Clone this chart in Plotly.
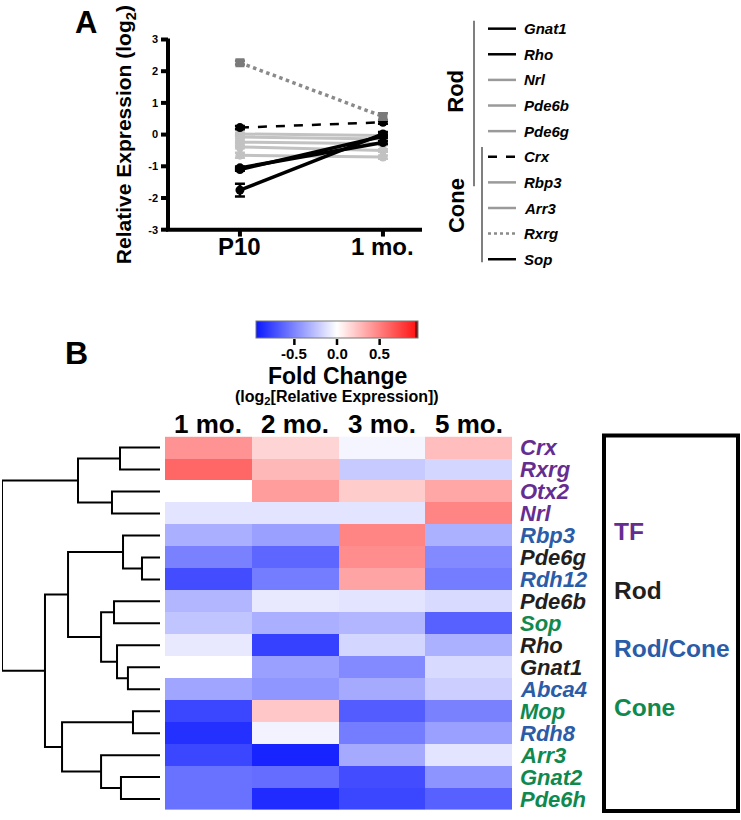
import plotly.graph_objects as go

W, H = 741, 820
FONT = "Liberation Sans, Arial, sans-serif"

def xp(px):
    return px / W

def yp(py):
    return 1 - py / H

# ---------------- Panel A data ----------------
timepoints_A = ["P10", "1 mo."]
genes_A = ["Gnat1", "Rho", "Nrl", "Pde6b", "Pde6g", "Crx", "Rbp3", "Arr3", "Rxrg", "Sop"]
p10_vals = [-1.05, -1.10, 0.02, -0.08, -0.24, 0.22, -0.39, -0.65, 2.27, -1.75]
mo1_vals = [-0.25, -0.05, -0.03, -0.14, -0.29, 0.39, -0.50, -0.71, 0.57, 0.02]
p10_err = [0.04, 0.04, 0.04, 0.04, 0.04, 0.05, 0.04, 0.08, 0.06, 0.20]
mo1_err = [0.05, 0.05, 0.04, 0.04, 0.04, 0.05, 0.04, 0.05, 0.10, 0.06]
styles_A = ["black", "black", "gray", "gray", "gray", "dash", "gray", "gray", "dot", "black"]
groups_A = ["Rod", "Cone"]
yticks_A = [3, 2, 1, 0, -1, -2, -3]

# ---------------- Panel B data ----------------
timepoints_B = ["1 mo.", "2 mo.", "3 mo.", "5 mo."]
genes_B = ["Crx", "Rxrg", "Otx2", "Nrl", "Rbp3", "Pde6g", "Rdh12", "Pde6b", "Sop",
           "Rho", "Gnat1", "Abca4", "Mop", "Rdh8", "Arr3", "Gnat2", "Pde6h"]
gene_class_B = ["TF", "TF", "TF", "TF", "Rod/Cone", "Rod", "Rod/Cone", "Rod", "Cone",
                "Rod", "Rod", "Rod/Cone", "Cone", "Rod/Cone", "Cone", "Cone", "Cone"]
fold_1mo = [0.43, 0.60, 0.00, -0.11, -0.33, -0.52, -0.73, -0.30, -0.24, -0.09, 0.00, -0.37, -0.76, -0.85, -0.76, -0.58, -0.58]
fold_2mo = [0.17, 0.28, 0.39, -0.11, -0.39, -0.63, -0.54, -0.09, -0.33, -0.78, -0.39, -0.43, 0.22, -0.05, -0.90, -0.60, -0.87]
fold_3mo = [-0.04, -0.22, 0.20, -0.11, 0.48, 0.45, 0.36, -0.11, -0.30, -0.17, -0.48, -0.35, -0.67, -0.54, -0.35, -0.73, -0.76]
fold_5mo = [0.26, -0.17, 0.35, 0.48, -0.32, -0.48, -0.54, -0.15, -0.65, -0.32, -0.15, -0.20, -0.52, -0.39, -0.11, -0.44, -0.65]
cbar_ticks = [-0.5, 0.0, 0.5]
classes = ["TF", "Rod", "Rod/Cone", "Cone"]
class_colors = {"TF": "#662d91", "Rod": "#231f20", "Rod/Cone": "#2b5ca8", "Cone": "#10894f"}

# dendrogram linkage: (child a, child b, height); leaves 0..16, merges numbered from 17
linkage = [
    (0, 1, 0.253), (2, 3, 0.304), (17, 18, 0.519),
    (5, 6, 0.114), (4, 20, 0.234), (7, 8, 0.291),
    (10, 11, 0.203), (9, 23, 0.272), (22, 24, 0.373),
    (21, 25, 0.582), (12, 13, 0.171), (15, 16, 0.247),
    (14, 28, 0.373), (27, 29, 0.620), (26, 30, 0.728),
    (19, 31, 1.000),
]

ZMIN, ZMAX = -0.95, 0.95
YMIN_A, YMAX_A = -3, 3
XMIN_A, XMAX_A = -0.503, 1.273
# colorbar geometry (pixels)
CB_X0, CB_X1, CB_Y0, CB_Y1 = 256, 418, 320, 337
# panel A geometry (pixels)
AX_X0, AX_X1, AX_Y0, AX_Y1 = 168, 422, 34, 227

def a_ypix(v):
    return AX_Y0 + (YMAX_A - v) / (YMAX_A - YMIN_A) * (AX_Y1 - AX_Y0)

def a_xpix(v):
    return AX_X0 + (v - XMIN_A) / (XMAX_A - XMIN_A) * (AX_X1 - AX_X0)

fig = go.Figure()

# ---------------- Panel A traces ----------------
LIGHT = "#c2c2c2"
order = [i for i, s in enumerate(styles_A) if s == "gray"] + \
        [i for i, s in enumerate(styles_A) if s in ("black", "dash")] + \
        [i for i, s in enumerate(styles_A) if s == "dot"]
for i in order:
    s = styles_A[i]
    if s == "gray":
        col, dash, w, sym, mcol = LIGHT, "solid", 3, "circle", LIGHT
    elif s == "dot":
        col, dash, w, sym, mcol = "#8a8a8a", "dot", 3.5, "square", "#7a7a7a"
    elif s == "dash":
        col, dash, w, sym, mcol = "black", "dash", 2.5, "circle", "black"
    else:
        col, dash, w, sym, mcol = "black", "solid", 3.5, "circle", "black"
    fig.add_trace(go.Scatter(
        x=[0, 1], y=[p10_vals[i], mo1_vals[i]],
        mode="lines+markers", name=genes_A[i], showlegend=False,
        line=dict(color=col, dash=dash, width=w),
        marker=dict(symbol=sym, size=9, color=mcol),
        error_y=dict(type="data", array=[p10_err[i], mo1_err[i]], color=mcol,
                     thickness=2.5, width=5),
        xaxis="x", yaxis="y",
    ))

# ---------------- Panel B heatmap ----------------
z = [[fold_1mo[r], fold_2mo[r], fold_3mo[r], fold_5mo[r]] for r in range(len(genes_B))]
fig.add_trace(go.Heatmap(
    z=z, x=list(range(len(timepoints_B))), y=list(range(len(genes_B))),
    zmin=ZMIN, zmax=ZMAX,
    colorscale=[[0, "rgb(10,24,255)"], [0.5, "rgb(255,255,255)"],
                [0.98, "rgb(255,24,24)"], [0.985, "rgb(120,20,20)"], [1.0, "rgb(120,20,20)"]],
    xgap=0, ygap=0,
    colorbar=dict(
        orientation="h", x=xp((CB_X0 + CB_X1) / 2), xanchor="center",
        y=yp(CB_Y0), yanchor="top",
        len=(CB_X1 - CB_X0) / W, lenmode="fraction", thickness=CB_Y1 - CB_Y0,
        xpad=0, ypad=0, showticklabels=False, ticks="",
        outlinewidth=1, outlinecolor="#777",
    ),
    xaxis="x2", yaxis="y2",
))

# ---------------- Dendrogram ----------------
node_y = {i: float(i) for i in range(len(genes_B))}
node_h = {i: 0.0 for i in range(len(genes_B))}
dx, dy = [], []
for k, (a, b, h) in enumerate(linkage):
    nid = len(genes_B) + k
    dx += [node_h[a], h, h, node_h[b], None]
    dy += [node_y[a], node_y[a], node_y[b], node_y[b], None]
    node_y[nid] = (node_y[a] + node_y[b]) / 2
    node_h[nid] = h
fig.add_trace(go.Scatter(x=dx, y=dy, mode="lines", line=dict(color="black", width=2),
                         showlegend=False, hoverinfo="skip", xaxis="x3", yaxis="y2"))

# ---------------- Axis frame of panel A + colorbar ticks (overlay in pixel space) ----------------
fx, fy = [], []
fx += [AX_X0, AX_X0, AX_X1, None]
fy += [AX_Y0 - 1, AX_Y1, AX_Y1, None]
for v in yticks_A:
    py = a_ypix(v)
    fx += [AX_X0 - 7, AX_X0, None]
    fy += [py, py, None]
for i in range(len(timepoints_A)):
    px = a_xpix(i)
    fx += [px, px, None]
    fy += [AX_Y1, AX_Y1 + 7, None]
fig.add_trace(go.Scatter(x=fx, y=fy, mode="lines", line=dict(color="black", width=4),
                         showlegend=False, hoverinfo="skip", xaxis="x4", yaxis="y4"))
cx, cy_ = [], []
for v in cbar_ticks:
    px = CB_X0 + (v - ZMIN) / (ZMAX - ZMIN) * (CB_X1 - CB_X0)
    cx += [px, px, None]
    cy_ += [CB_Y1 + 1, CB_Y1 + 7, None]
fig.add_trace(go.Scatter(x=cx, y=cy_, mode="lines", line=dict(color="black", width=2.5),
                         showlegend=False, hoverinfo="skip", xaxis="x4", yaxis="y4"))

annotations = []
shapes = []

for i, t in enumerate(timepoints_A):
    annotations.append(dict(x=i, xref="x", y=yp(244), yref="paper", yanchor="middle",
                            showarrow=False, text="<b>%s</b>" % t,
                            font=dict(family=FONT, size=24, color="black")))

# Heatmap column headers
for i, t in enumerate(timepoints_B):
    annotations.append(dict(x=i, xref="x2", y=yp(424), yref="paper", yanchor="middle",
                            showarrow=False, text="<b>%s</b>" % t,
                            font=dict(family=FONT, size=26, color="black")))

# Colorbar tick labels
for v in cbar_ticks:
    px = CB_X0 + (v - ZMIN) / (ZMAX - ZMIN) * (CB_X1 - CB_X0)
    annotations.append(dict(x=xp(px), y=yp(353), xref="paper", yref="paper",
                            yanchor="middle", showarrow=False, text="<b>%.1f</b>" % v,
                            font=dict(family=FONT, size=15, color="black")))

# Row labels
for r, g in enumerate(genes_B):
    annotations.append(dict(
        x=xp(518), xref="paper", y=r, yref="y2", xanchor="left", yanchor="middle",
        text="<b><i>%s</i></b>" % g, showarrow=False,
        font=dict(family=FONT, size=22, color=class_colors[gene_class_B[r]])))

# Class box
shapes.append(dict(type="rect", xref="paper", yref="paper",
                   x0=xp(604), x1=xp(738), y0=yp(817), y1=yp(436),
                   line=dict(color="black", width=4)))
class_y = [533, 593, 652, 712]
for c, cyy in zip(classes, class_y):
    annotations.append(dict(x=xp(612), xref="paper", y=yp(cyy), yref="paper",
                            xanchor="left", yanchor="middle", showarrow=False,
                            text="<b>%s</b>" % c,
                            font=dict(family=FONT, size=24.5, color=class_colors[c])))

# Colorbar titles
annotations.append(dict(x=xp(337), y=yp(375), xref="paper", yref="paper", showarrow=False,
                        yanchor="middle",
                        text="<b>Fold Change</b>", font=dict(family=FONT, size=23, color="black")))
annotations.append(dict(x=xp(337), y=yp(397), xref="paper", yref="paper", showarrow=False,
                        yanchor="middle",
                        text="<b>(log<sub>2</sub>[Relative Expression])</b>",
                        font=dict(family=FONT, size=16, color="black")))

# Panel labels
annotations.append(dict(x=xp(73), y=yp(17), xref="paper", yref="paper", showarrow=False,
                        yanchor="middle",
                        text="<b>A</b>", font=dict(family=FONT, size=31, color="black")))
annotations.append(dict(x=xp(63), y=yp(352), xref="paper", yref="paper", showarrow=False,
                        yanchor="middle",
                        text="<b>B</b>", font=dict(family=FONT, size=32, color="black")))

# Panel A custom legend
leg_y0, leg_dy = 23, 26
for i, g in enumerate(genes_A):
    cyy = leg_y0 + i * leg_dy
    s = styles_A[i]
    if s == "gray":
        lc, ld = "#9a9a9a", "solid"
    elif s == "dot":
        lc, ld = "#8a8a8a", "dot"
    elif s == "dash":
        lc, ld = "black", "dash"
    else:
        lc, ld = "black", "solid"
    shapes.append(dict(type="line", xref="paper", yref="paper",
                       x0=xp(488), x1=xp(516), y0=yp(cyy), y1=yp(cyy),
                       line=dict(color=lc, width=2.5, dash=ld)))
    annotations.append(dict(x=xp(522), y=yp(cyy), xref="paper", yref="paper",
                            xanchor="left", yanchor="middle", showarrow=False,
                            text="<b><i>%s</i></b>" % g,
                            font=dict(family=FONT, size=15, color="black")))
# group brackets
shapes.append(dict(type="line", xref="paper", yref="paper", x0=xp(474), x1=xp(474),
                   y0=yp(15), y1=yp(183), line=dict(color="#555", width=1.5)))
shapes.append(dict(type="line", xref="paper", yref="paper", x0=xp(482), x1=xp(482),
                   y0=yp(143), y1=yp(260), line=dict(color="#555", width=1.5)))
for gname, gy in zip(groups_A, [87, 203]):
    annotations.append(dict(x=xp(456), y=yp(gy), xref="paper", yref="paper",
                            xanchor="center", yanchor="middle",
                            textangle=-90, showarrow=False, text="<b>%s</b>" % gname,
                            font=dict(family=FONT, size=22, color="black")))

fig.update_layout(
    width=W, height=H, margin=dict(l=0, r=0, t=0, b=0),
    paper_bgcolor="white", plot_bgcolor="rgba(0,0,0,0)", showlegend=False,
    font=dict(family=FONT, color="black"),
    xaxis=dict(domain=[xp(AX_X0), xp(AX_X1)], range=[XMIN_A, XMAX_A], anchor="y",
               tickvals=[0, 1], showticklabels=False, ticks="",
               showline=False, showgrid=False, zeroline=False),
    yaxis=dict(domain=[yp(AX_Y1), yp(AX_Y0)], range=[YMIN_A, YMAX_A], anchor="x",
               tickvals=yticks_A,
               ticktext=["<b>%d</b>" % v for v in yticks_A],
               tickfont=dict(size=11, color="black"), ticks="", ticklabelstandoff=9,
               showline=False, showgrid=False, zeroline=False,
               title=dict(text="<b>Relative Expression (log<sub>2</sub>)</b>",
                          font=dict(size=21, color="black"), standoff=10)),
    xaxis2=dict(domain=[xp(165), xp(512)], range=[-0.5, 3.5], anchor="y2",
                showticklabels=False, ticks="", showline=False, showgrid=False, zeroline=False),
    yaxis2=dict(domain=[yp(816), yp(437)], range=[16.5, -0.5], anchor="x2",
                showticklabels=False, ticks="", showline=False, showgrid=False, zeroline=False),
    xaxis3=dict(domain=[xp(2), xp(160)], range=[1.0, 0.0], anchor="y2", visible=False,
                showgrid=False, zeroline=False),
    xaxis4=dict(domain=[0, 1], range=[0, W], anchor="y4", visible=False,
                showgrid=False, zeroline=False),
    yaxis4=dict(domain=[0, 1], range=[H, 0], anchor="x4", visible=False,
                showgrid=False, zeroline=False),
    annotations=annotations, shapes=shapes,
)

fig.write_html("out.html", config={"displayModeBar": False, "staticPlot": True},
               post_script="document.body.style.margin='0px';document.body.style.overflow='hidden';")
